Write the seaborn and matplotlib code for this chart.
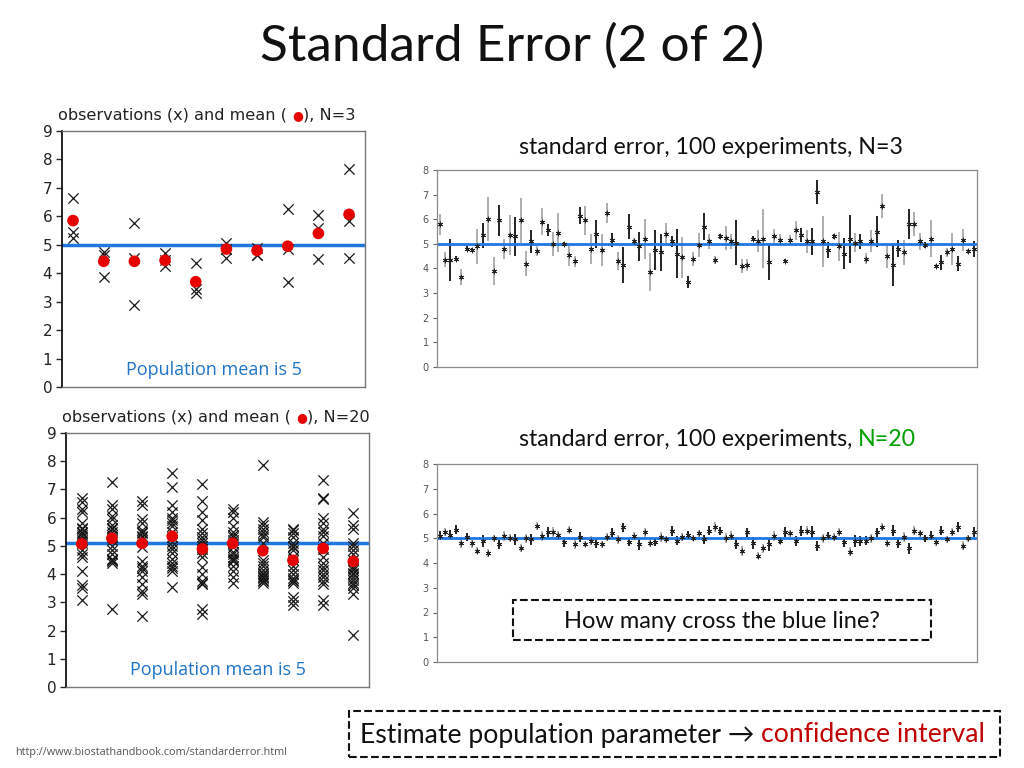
import numpy as np
import pandas as pd
import matplotlib.pyplot as plt
from matplotlib.patches import Rectangle
import seaborn as sns

# left panels: individual observations per sample and the sample means
obs_n3 = [[6.65, 5.45, 5.25], [4.75, 4.65, 3.85], [5.75, 4.55, 2.9], [4.7, 4.45, 4.25],
          [4.35, 3.45, 3.3], [5.05, 4.85, 4.55], [4.9, 4.65, 4.65], [6.25, 4.85, 3.7],
          [6.05, 5.6, 4.5], [7.65, 5.85, 4.55]]
means_n3 = [5.85, 4.42, 4.42, 4.45, 3.7, 4.85, 4.8, 4.95, 5.4, 6.07]

obs_n20 = [
    [6.7, 6.55, 6.3, 6.2, 5.8, 5.65, 5.6, 5.5, 5.45, 5.4, 5.3, 5.2, 5.1, 4.85, 4.7, 4.6, 4.1, 3.6, 3.5, 3.1],
    [7.25, 6.45, 6.3, 6.05, 5.95, 5.75, 5.65, 5.6, 5.5, 5.4, 5.3, 5.2, 5.0, 4.85, 4.7, 4.55, 4.5, 4.45, 4.4, 2.75],
    [6.6, 6.45, 5.95, 5.8, 5.55, 5.5, 5.45, 5.35, 5.3, 5.2, 4.95, 4.45, 4.3, 4.2, 4.1, 3.9, 3.65, 3.4, 3.3, 2.5],
    [7.6, 7.1, 6.45, 6.2, 6.0, 5.9, 5.8, 5.7, 5.5, 5.3, 5.15, 5.0, 4.9, 4.75, 4.55, 4.4, 4.3, 4.2, 4.1, 3.55],
    [7.2, 6.6, 6.2, 5.9, 5.6, 5.45, 5.3, 5.2, 5.1, 5.0, 4.9, 4.75, 4.6, 4.25, 4.0, 3.75, 3.7, 3.65, 2.75, 2.6],
    [6.3, 6.2, 6.0, 5.7, 5.5, 5.4, 5.3, 5.2, 5.1, 4.95, 4.8, 4.7, 4.6, 4.55, 4.5, 4.45, 4.3, 4.1, 3.9, 3.7],
    [7.85, 5.85, 5.75, 5.6, 5.5, 5.4, 5.3, 5.1, 4.5, 4.4, 4.3, 4.15, 4.05, 4.0, 3.95, 3.9, 3.85, 3.8, 3.75, 3.7],
    [5.6, 5.55, 5.45, 5.3, 5.1, 5.0, 4.95, 4.85, 4.6, 4.5, 4.3, 4.15, 4.0, 3.85, 3.8, 3.75, 3.7, 3.2, 3.05, 2.9],
    [7.35, 6.7, 6.65, 6.0, 5.8, 5.6, 5.5, 5.35, 5.1, 4.9, 4.6, 4.4, 4.25, 4.15, 4.0, 3.9, 3.75, 3.65, 3.1, 2.9],
    [6.15, 5.75, 5.6, 5.1, 5.0, 4.85, 4.7, 4.5, 4.3, 4.2, 4.15, 4.05, 4.0, 3.9, 3.8, 3.7, 3.6, 3.5, 3.3, 1.85],
]
means_n20 = [5.07, 5.27, 5.09, 5.34, 4.89, 5.09, 4.83, 4.49, 4.91, 4.45]

# right panels: 100 experiments, mean and standard error, dark = black bar
se3_mean = [5.8, 4.35, 4.35, 4.4, 3.65, 4.8, 4.75, 4.9, 5.35, 6.0,
            3.9, 5.95, 4.8, 5.35, 5.3, 5.95, 4.2, 5.1, 4.7, 5.9,
            5.55, 5.0, 5.45, 5.0, 4.55, 4.3, 6.15, 5.95, 4.8, 5.4,
            4.75, 6.25, 5.15, 4.3, 4.15, 5.7, 5.1, 4.9, 5.2, 3.85,
            4.75, 4.65, 5.4, 5.1, 4.6, 4.45, 3.45, 4.4, 4.95, 5.7,
            5.1, 4.35, 5.3, 5.25, 5.1, 5.05, 4.1, 4.15, 5.2, 5.1,
            5.2, 4.25, 5.3, 5.15, 4.3, 5.15, 5.55, 5.35, 5.1, 5.1,
            7.1, 5.1, 4.75, 5.3, 4.9, 4.6, 5.2, 5.05, 5.1, 4.4,
            5.1, 5.5, 6.55, 4.5, 4.15, 4.8, 4.65, 5.8, 5.8, 5.1,
            4.95, 5.2, 4.1, 4.25, 4.65, 4.8, 4.2, 5.15, 4.7, 4.8]
se3_half = [0.43, 0.3, 0.85, 0.1, 0.33, 0.1, 0.08, 0.72, 0.5, 0.9,
            0.58, 0.62, 0.4, 0.82, 0.78, 0.9, 0.5, 0.48, 0.2, 0.55,
            0.25, 0.48, 0.8, 0.08, 0.45, 0.22, 0.35, 0.58, 0.6, 0.55,
            0.65, 0.4, 0.28, 0.38, 0.72, 0.52, 0.15, 0.6, 0.8, 0.78,
            0.82, 0.75, 0.45, 0.22, 1.0, 0.82, 0.25, 0.28, 0.48, 0.55,
            0.32, 0.15, 0.1, 0.48, 0.32, 0.9, 0.3, 0.25, 0.1, 0.45,
            1.2, 0.7, 0.32, 0.25, 0.08, 0.2, 0.38, 0.28, 0.48, 0.55,
            0.48, 1.05, 0.32, 0.12, 0.6, 0.62, 0.98, 0.4, 0.32, 0.22,
            0.45, 0.62, 0.48, 0.48, 0.85, 0.35, 0.5, 0.6, 0.48, 0.35,
            0.12, 0.75, 0.1, 0.3, 0.2, 0.65, 0.3, 0.45, 0.1, 0.32]
se3_dark = [0, 0, 1, 1, 0, 1, 1, 0, 1, 0,
            0, 1, 0, 0, 1, 0, 0, 1, 0, 0,
            1, 0, 0, 1, 0, 0, 1, 0, 0, 1,
            0, 0, 1, 0, 1, 1, 0, 1, 0, 0,
            1, 1, 0, 1, 1, 0, 1, 0, 0, 1,
            0, 0, 1, 0, 0, 1, 0, 0, 1, 0,
            0, 1, 0, 0, 1, 0, 0, 1, 0, 1,
            1, 0, 1, 1, 0, 1, 1, 0, 1, 0,
            0, 1, 0, 0, 1, 1, 0, 1, 0, 0,
            1, 0, 0, 1, 0, 0, 1, 0, 0, 1]

se20_mean = [5.1, 5.25, 5.15, 5.35, 4.8, 5.05, 4.8, 4.5, 4.9, 4.4,
             5.0, 4.75, 5.1, 5.0, 4.95, 4.6, 5.0, 4.95, 5.5, 5.1,
             5.25, 5.25, 5.15, 4.85, 5.35, 4.75, 5.05, 4.75, 4.9, 4.8,
             4.75, 5.05, 5.2, 4.95, 5.45, 4.85, 5.1, 4.75, 5.25, 4.8,
             4.85, 5.05, 4.95, 5.3, 4.9, 5.05, 5.15, 5.0, 5.2, 4.95,
             5.3, 5.45, 5.3, 5.0, 5.1, 4.75, 4.5, 5.25, 4.8, 4.3,
             4.6, 4.75, 5.1, 4.9, 5.25, 5.2, 4.9, 5.3, 5.3, 5.25,
             4.7, 5.0, 5.1, 5.05, 5.25, 4.85, 4.45, 4.9, 4.9, 4.9,
             5.0, 5.25, 5.45, 4.8, 5.3, 4.8, 5.05, 4.6, 5.3, 5.2,
             5.0, 5.1, 4.85, 5.3, 4.95, 5.25, 5.45, 4.7, 5.0, 5.25]
se20_half = [0.18, 0.15, 0.2, 0.17, 0.2, 0.15, 0.18, 0.15, 0.25, 0.17,
             0.15, 0.18, 0.2, 0.17, 0.22, 0.15, 0.18, 0.22, 0.15, 0.2,
             0.22, 0.2, 0.15, 0.2, 0.15, 0.2, 0.22, 0.12, 0.18, 0.2,
             0.15, 0.15, 0.2, 0.2, 0.18, 0.15, 0.15, 0.22, 0.18, 0.15,
             0.17, 0.2, 0.15, 0.2, 0.18, 0.15, 0.15, 0.12, 0.15, 0.2,
             0.18, 0.2, 0.15, 0.2, 0.18, 0.2, 0.2, 0.18, 0.25, 0.15,
             0.18, 0.25, 0.2, 0.15, 0.2, 0.15, 0.2, 0.2, 0.18, 0.25,
             0.2, 0.18, 0.15, 0.15, 0.15, 0.2, 0.18, 0.25, 0.2, 0.18,
             0.18, 0.18, 0.15, 0.15, 0.22, 0.2, 0.2, 0.22, 0.18, 0.15,
             0.15, 0.18, 0.15, 0.18, 0.15, 0.15, 0.2, 0.18, 0.15, 0.2]
se20_dark = [1, 0, 1, 1, 0, 1, 0, 0, 1, 0,
             0, 1, 0, 0, 1, 0, 0, 1, 0, 0,
             1, 0, 0, 1, 0, 0, 1, 0, 0, 1,
             0, 0, 1, 0, 1, 1, 0, 1, 0, 0,
             1, 0, 0, 1, 1, 0, 1, 0, 0, 1,
             1, 0, 1, 0, 0, 1, 0, 1, 1, 0,
             0, 1, 0, 1, 1, 0, 1, 1, 0, 1,
             1, 0, 1, 0, 0, 1, 0, 1, 1, 1,
             0, 1, 0, 0, 1, 1, 0, 1, 0, 0,
             1, 1, 0, 1, 0, 0, 1, 0, 0, 1]

BLUE = '#1f78e0'
TXT_BLUE = '#1f74c8'
W, H = 1024, 768

sns.set_style('white')
plt.rcParams['font.family'] = ['DejaVu Sans']

fig = plt.figure(figsize=(10.24, 7.68), dpi=100)


def fig_rect(x0, y0, x1, y1):
    # pixel box (top-left origin) -> figure fraction
    return [x0 / W, 1 - y1 / H, (x1 - x0) / W, (y1 - y0) / H]


def obs_panel(rect, obs, means, line_y, xlim, label):
    ax = fig.add_axes(rect)
    df = pd.DataFrame({
        'sample': np.repeat(np.arange(len(obs)), [len(o) for o in obs]),
        'value': np.concatenate(obs),
    })
    sns.scatterplot(data=df, x='sample', y='value', marker='x', color='#1a1a1a',
                    s=55, linewidth=0.9, ax=ax, legend=False, zorder=2.5)
    ax.axhline(line_y, color=BLUE, lw=2.5, zorder=2)
    sns.scatterplot(x=np.arange(len(means)), y=means, color='#e60000', s=70,
                    edgecolor='none', ax=ax, legend=False, zorder=3)
    ax.set_xlim(*xlim)
    ax.set_ylim(0, 9)
    ax.set_yticks(range(10))
    ax.set_xticks([])
    ax.set_xlabel('')
    ax.set_ylabel('')
    ax.tick_params(axis='y', left=True, length=4, width=1, labelsize=11,
                   labelcolor='#222', pad=3)
    for side, sp in ax.spines.items():
        sp.set_color('#000' if side == 'left' else '#777')
        sp.set_linewidth(1.2 if side == 'left' else 1.0)
    ax.text(0.5, 0.065, 'Population mean is 5', transform=ax.transAxes,
            ha='center', va='center', color=TXT_BLUE, fontsize=13,
            family=['Open Sans', 'DejaVu Sans'])
    t1 = ax.text(-0.012, 1.035, 'observations (x) and mean ( ', transform=ax.transAxes,
                 ha='left', va='bottom', fontsize=11.6, color='#222')
    t2 = ax.annotate('\u25cf', xy=(1, 0), xycoords=t1, ha='left', va='bottom',
                     fontsize=9, color='#e60000')
    ax.annotate('), ' + label, xy=(1, 0), xycoords=t2, ha='left', va='bottom',
                fontsize=11.6, color='#222')
    return ax


def se_panel(rect, means, half, dark):
    ax = fig.add_axes(rect)
    x = np.arange(1, len(means) + 1)
    m = np.array(means)
    h = np.array(half)
    colors = np.where(np.array(dark) == 1, '#111111', '#a8a8a8')
    ax.vlines(x, m - h, m + h, colors=colors, lw=1.3, zorder=2)
    ax.axhline(5, color=BLUE, lw=2.0, zorder=2.5)
    sns.scatterplot(x=x, y=m, marker=(6, 2, 0), color='#222', s=13, linewidth=0.6,
                    ax=ax, legend=False, zorder=3)
    ax.set_xlim(0.5, 100.6)
    ax.set_ylim(0, 8)
    ax.set_yticks(range(9))
    ax.set_xticks([])
    ax.tick_params(axis='y', left=True, length=3, width=0.8, labelsize=7,
                   labelcolor='#555', color='#666', pad=3)
    for sp in ax.spines.values():
        sp.set_color('#8a8a8a')
        sp.set_linewidth(0.9)
    return ax


obs_panel(fig_rect(62, 131, 365, 387), obs_n3, means_n3, 5.0, (-0.36, 9.52), 'N=3')
obs_panel(fig_rect(66, 433, 369, 687), obs_n20, means_n20, 5.1, (-0.52, 9.52), 'N=20')
se_panel(fig_rect(437, 170, 977, 367), se3_mean, se3_half, se3_dark)
se_panel(fig_rect(437, 464, 977, 662), se20_mean, se20_half, se20_dark)

title_font = ['Lato', 'DejaVu Sans']
fig.text(0.5, 1 - 46 / H, 'Standard Error (2 of 2)', ha='center', va='center',
         fontsize=37, family=title_font, color='#111')

fig.text(519 / W, 1 - 148 / H, 'standard error, 100 experiments, N=3', ha='left',
         va='center', fontsize=16.7, family=title_font, color='#111')
s1 = fig.text(519 / W, 1 - 440 / H, 'standard error, 100 experiments, ', ha='left',
              va='center', fontsize=16.7, family=title_font, color='#111')
plt.annotate('N=20', xy=(1, 0), xycoords=s1, ha='left', va='bottom',
             fontsize=16.7, family=title_font, color='#00a000',
             annotation_clip=False)

# dashed callout boxes
fig.add_artist(Rectangle((513 / W, 1 - 640 / H), 418 / W, 40 / H, transform=fig.transFigure,
                         fill=False, ls='--', lw=1.5, ec='#111'))
fig.text(722 / W, 1 - 621 / H, 'How many cross the blue line?', ha='center', va='center',
         fontsize=17, family=title_font, color='#111')

fig.add_artist(Rectangle((349 / W, 1 - 757 / H), 651 / W, 46 / H, transform=fig.transFigure,
                         fill=False, ls='--', lw=1.5, ec='#111'))
e1 = fig.text(360 / W, 1 - 735 / H, 'Estimate population parameter \u2192 ', ha='left',
              va='center', fontsize=19.2, family=title_font, color='#111')
plt.annotate('confidence interval', xy=(1, 0), xycoords=e1, ha='left', va='bottom',
             fontsize=19.2, family=title_font, color='#c00000', annotation_clip=False)

fig.text(15 / W, 1 - 753 / H, 'http://www.biostathandbook.com/standarderror.html',
         ha='left', va='center', fontsize=7.8, color='#555',
         family=['Open Sans', 'DejaVu Sans'])

fig.savefig('out.png', dpi=100)
